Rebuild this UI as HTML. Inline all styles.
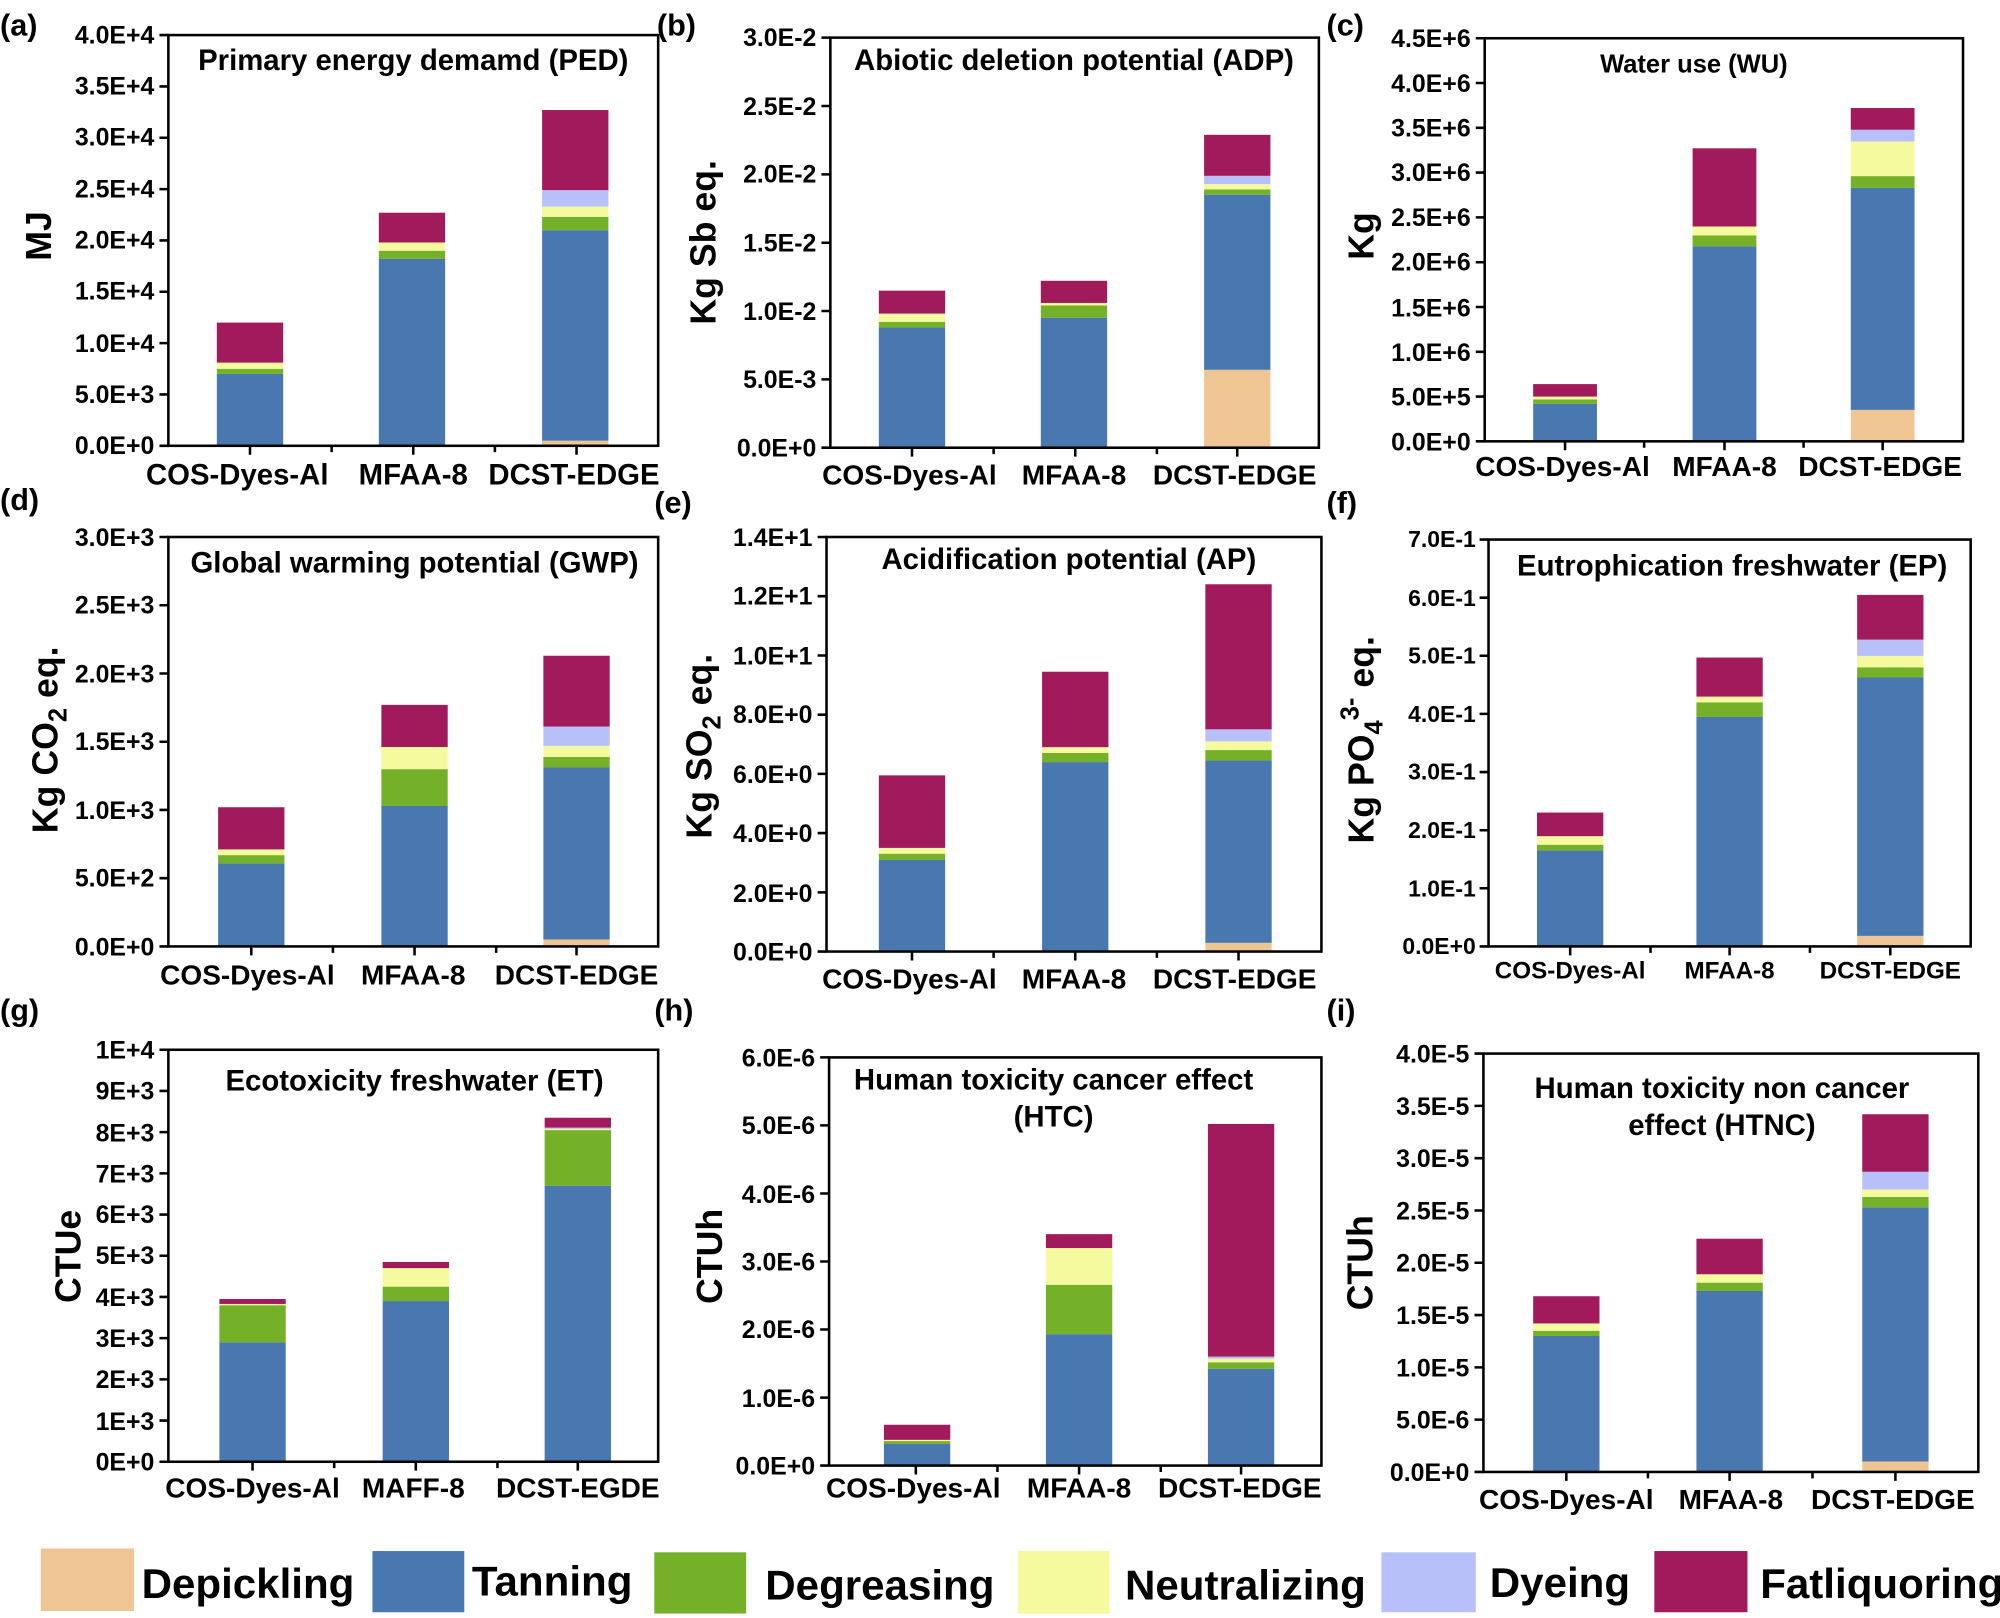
<!DOCTYPE html>
<html><head><meta charset="utf-8"><style>
html,body{margin:0;padding:0;background:#fff;}
svg{display:block;}
text{font-family:"Liberation Sans",Arial,sans-serif;font-weight:bold;fill:#000;}
.t{font-size:19.5px;text-anchor:end;}
.c{font-size:22px;text-anchor:middle;}
.ti{font-size:23px;text-anchor:middle;}
.p{font-size:24px;}
.yl{font-size:28px;text-anchor:middle;}
.lg{font-size:33px;font-weight:bold;}
.fr{fill:none;stroke:#000;stroke-width:2;}
.tk{stroke:#000;stroke-width:2;fill:none;}
.D{fill:#F0C594}.T{fill:#4878AF}.G{fill:#74B028}.N{fill:#F5FA9E}.Y{fill:#B8C0FA}.F{fill:#A11B5C}
</style></head><body>
<svg width="2000" height="1618" viewBox="0 0 1568 1268.5" preserveAspectRatio="none" xmlns="http://www.w3.org/2000/svg">

<!-- ========== (a) ========== -->
<text class="p" x="0" y="28">(a)</text>
<g transform="translate(0,349.5) scale(1,-3.22)">
<rect class="T" x="170" y="0" width="52" height="17.5"/><rect class="G" x="170" y="17.5" width="52" height="1.25"/><rect class="N" x="170" y="18.75" width="52" height="1.5"/><rect class="F" x="170" y="20.25" width="52" height="9.75"/>
<rect class="T" x="297" y="0" width="52" height="45.5"/><rect class="G" x="297" y="45.5" width="52" height="2"/><rect class="N" x="297" y="47.5" width="52" height="2"/><rect class="F" x="297" y="49.5" width="52" height="7.25"/>
<rect class="D" x="425" y="0" width="52" height="1.25"/><rect class="T" x="425" y="1.25" width="52" height="51.25"/><rect class="G" x="425" y="52.5" width="52" height="3.25"/><rect class="N" x="425" y="55.75" width="52" height="2.5"/><rect class="Y" x="425" y="58.25" width="52" height="4"/><rect class="F" x="425" y="62.25" width="52" height="19.5"/>
</g>
<rect class="fr" x="132" y="27.5" width="384" height="322"/>
<path class="tk" d="M132 349.5h-7M132 309.25h-7M132 269h-7M132 228.75h-7M132 188.5h-7M132 148.25h-7M132 108h-7M132 67.75h-7M132 27.5h-7M196 349.5v7M260 349.5v5M324 349.5v7M388 349.5v5M452 349.5v7"/>
<text class="t" x="121" y="356">0.0E+0</text><text class="t" x="121" y="316">5.0E+3</text><text class="t" x="121" y="276">1.0E+4</text><text class="t" x="121" y="235">1.5E+4</text><text class="t" x="121" y="195">2.0E+4</text><text class="t" x="121" y="155">2.5E+4</text><text class="t" x="121" y="114">3.0E+4</text><text class="t" x="121" y="74">3.5E+4</text><text class="t" x="121" y="34">4.0E+4</text>
<text class="ti" x="324" y="55">Primary energy demamd (PED)</text>
<text class="yl" transform="translate(40,185) rotate(-90)">MJ</text>
<text class="c" style="font-size:23px" x="186" y="380">COS-Dyes-Al</text><text class="c" style="font-size:23px" x="324" y="380">MFAA-8</text><text class="c" style="font-size:23px" x="450" y="380">DCST-EDGE</text>

<!-- ========== (b) ========== -->
<text class="p" x="515" y="28">(b)</text>
<g transform="translate(0,351) scale(1,-3.215)">
<rect class="T" x="689" y="0" width="52" height="29.3"/><rect class="G" x="689" y="29.3" width="52" height="1.4"/><rect class="N" x="689" y="30.7" width="52" height="2"/><rect class="F" x="689" y="32.7" width="52" height="5.6"/>
<rect class="T" x="816" y="0" width="52" height="31.7"/><rect class="G" x="816" y="31.7" width="52" height="3"/><rect class="N" x="816" y="34.7" width="52" height="0.6"/><rect class="F" x="816" y="35.3" width="52" height="5.4"/>
<rect class="D" x="944" y="0" width="52" height="19"/><rect class="T" x="944" y="19" width="52" height="42.7"/><rect class="G" x="944" y="61.7" width="52" height="1.3"/><rect class="N" x="944" y="63" width="52" height="1.3"/><rect class="Y" x="944" y="64.3" width="52" height="2"/><rect class="F" x="944" y="66.3" width="52" height="10"/>
</g>
<rect class="fr" x="651" y="29.5" width="383" height="321.5"/>
<path class="tk" d="M651 351h-7M651 297.4h-7M651 243.8h-7M651 190.3h-7M651 136.7h-7M651 83.1h-7M651 29.5h-7M715 351v7M779 351v5M843 351v7M907 351v5M970 351v7"/>
<text class="t" x="640" y="358">0.0E+0</text><text class="t" x="640" y="304">5.0E-3</text><text class="t" x="640" y="251">1.0E-2</text><text class="t" x="640" y="197">1.5E-2</text><text class="t" x="640" y="143">2.0E-2</text><text class="t" x="640" y="90">2.5E-2</text><text class="t" x="640" y="36">3.0E-2</text>
<text class="ti" x="842" y="55">Abiotic deletion potential (ADP)</text>
<text class="yl" transform="translate(561,190) rotate(-90)">Kg Sb eq.</text>
<text class="c" x="713" y="380">COS-Dyes-Al</text><text class="c" x="842" y="380">MFAA-8</text><text class="c" x="968" y="380">DCST-EDGE</text>

<!-- ========== (c) ========== -->
<text class="p" x="1040" y="28">(c)</text>
<g transform="translate(0,346) scale(1,-3.16)">
<rect class="T" x="1202" y="0" width="50" height="9.3"/><rect class="G" x="1202" y="9.3" width="50" height="1.1"/><rect class="N" x="1202" y="10.4" width="50" height="0.7"/><rect class="F" x="1202" y="11.1" width="50" height="3.1"/>
<rect class="T" x="1327" y="0" width="50" height="48.4"/><rect class="G" x="1327" y="48.4" width="50" height="2.7"/><rect class="N" x="1327" y="51.1" width="50" height="2.2"/><rect class="F" x="1327" y="53.3" width="50" height="19.4"/>
<rect class="D" x="1451" y="0" width="50" height="7.8"/><rect class="T" x="1451" y="7.8" width="50" height="55.1"/><rect class="G" x="1451" y="62.9" width="50" height="2.9"/><rect class="N" x="1451" y="65.8" width="50" height="8.6"/><rect class="Y" x="1451" y="74.4" width="50" height="2.9"/><rect class="F" x="1451" y="77.3" width="50" height="5.4"/>
</g>
<rect class="fr" x="1164" y="30" width="375" height="316"/>
<path class="tk" d="M1164 346h-7M1164 310.9h-7M1164 275.8h-7M1164 240.7h-7M1164 205.6h-7M1164 170.4h-7M1164 135.3h-7M1164 100.2h-7M1164 65.1h-7M1164 30h-7M1227 346v7M1289 346v5M1352 346v7M1414 346v5M1476 346v7"/>
<text class="t" x="1153" y="353">0.0E+0</text><text class="t" x="1153" y="318">5.0E+5</text><text class="t" x="1153" y="283">1.0E+6</text><text class="t" x="1153" y="248">1.5E+6</text><text class="t" x="1153" y="212">2.0E+6</text><text class="t" x="1153" y="177">2.5E+6</text><text class="t" x="1153" y="142">3.0E+6</text><text class="t" x="1153" y="107">3.5E+6</text><text class="t" x="1153" y="72">4.0E+6</text><text class="t" x="1153" y="37">4.5E+6</text>
<text class="ti" style="font-size:20px" x="1328" y="57">Water use (WU)</text>
<text class="yl" transform="translate(1077,185) rotate(-90)">Kg</text>
<text class="c" x="1225" y="373">COS-Dyes-Al</text><text class="c" x="1352" y="373">MFAA-8</text><text class="c" x="1474" y="373">DCST-EDGE</text>

<!-- ========== (d) ========== -->
<text class="p" x="0" y="400">(d)</text>
<g transform="translate(0,742) scale(1,-3.21)">
<rect class="T" x="171" y="0" width="52" height="20.3"/><rect class="G" x="171" y="20.3" width="52" height="2"/><rect class="N" x="171" y="22.3" width="52" height="1.4"/><rect class="F" x="171" y="23.7" width="52" height="10.3"/>
<rect class="T" x="299" y="0" width="52" height="34.3"/><rect class="G" x="299" y="34.3" width="52" height="9"/><rect class="N" x="299" y="43.3" width="52" height="5.4"/><rect class="F" x="299" y="48.7" width="52" height="10.3"/>
<rect class="D" x="426" y="0" width="52" height="1.7"/><rect class="T" x="426" y="1.7" width="52" height="42"/><rect class="G" x="426" y="43.7" width="52" height="2.6"/><rect class="N" x="426" y="46.3" width="52" height="2.7"/><rect class="Y" x="426" y="49" width="52" height="4.7"/><rect class="F" x="426" y="53.7" width="52" height="17.3"/>
</g>
<rect class="fr" x="132" y="421" width="384" height="321"/>
<path class="tk" d="M132 742h-7M132 688.5h-7M132 635h-7M132 581.5h-7M132 528h-7M132 474.5h-7M132 421h-7M197 742v7M261 742v5M325 742v7M389 742v5M452 742v7"/>
<text class="t" x="121" y="749">0.0E+0</text><text class="t" x="121" y="695">5.0E+2</text><text class="t" x="121" y="642">1.0E+3</text><text class="t" x="121" y="588">1.5E+3</text><text class="t" x="121" y="535">2.0E+3</text><text class="t" x="121" y="481">2.5E+3</text><text class="t" x="121" y="428">3.0E+3</text>
<text class="ti" x="325" y="449">Global warming potential (GWP)</text>
<text class="yl" transform="translate(45,580) rotate(-90)">Kg CO<tspan font-size="20" dy="7">2</tspan><tspan dy="-7"> eq.</tspan></text>
<text class="c" x="194" y="772">COS-Dyes-Al</text><text class="c" x="324" y="772">MFAA-8</text><text class="c" x="452" y="772">DCST-EDGE</text>

<!-- ========== (e) ========== -->
<text class="p" x="513" y="402">(e)</text>
<g transform="translate(0,746) scale(1,-3.25)">
<rect class="T" x="689" y="0" width="52" height="22.1"/><rect class="G" x="689" y="22.1" width="52" height="1.5"/><rect class="N" x="689" y="23.6" width="52" height="1.4"/><rect class="F" x="689" y="25" width="52" height="17.5"/>
<rect class="T" x="817" y="0" width="52" height="45.7"/><rect class="G" x="817" y="45.7" width="52" height="2.2"/><rect class="N" x="817" y="47.9" width="52" height="1.4"/><rect class="F" x="817" y="49.3" width="52" height="18.2"/>
<rect class="D" x="945" y="0" width="52" height="2.1"/><rect class="T" x="945" y="2.1" width="52" height="44"/><rect class="G" x="945" y="46.1" width="52" height="2.5"/><rect class="N" x="945" y="48.6" width="52" height="2.1"/><rect class="Y" x="945" y="50.7" width="52" height="2.9"/><rect class="F" x="945" y="53.6" width="52" height="35"/>
</g>
<rect class="fr" x="648" y="421" width="388" height="325"/>
<path class="tk" d="M648 746h-7M648 699.6h-7M648 653.1h-7M648 606.7h-7M648 560.3h-7M648 513.9h-7M648 467.4h-7M648 421h-7M715 746v7M779 746v5M843 746v7M907 746v5M971 746v7"/>
<text class="t" x="637" y="753">0.0E+0</text><text class="t" x="637" y="707">2.0E+0</text><text class="t" x="637" y="660">4.0E+0</text><text class="t" x="637" y="614">6.0E+0</text><text class="t" x="637" y="567">8.0E+0</text><text class="t" x="637" y="521">1.0E+1</text><text class="t" x="637" y="474">1.2E+1</text><text class="t" x="637" y="428">1.4E+1</text>
<text class="ti" x="838" y="446">Acidification potential (AP)</text>
<text class="yl" transform="translate(558,585) rotate(-90)">Kg SO<tspan font-size="20" dy="7">2</tspan><tspan dy="-7"> eq.</tspan></text>
<text class="c" x="713" y="775">COS-Dyes-Al</text><text class="c" x="842" y="775">MFAA-8</text><text class="c" x="968" y="775">DCST-EDGE</text>

<!-- ========== (f) ========== -->
<text class="p" x="1040" y="402">(f)</text>
<g transform="translate(0,742) scale(1,-3.19)">
<rect class="T" x="1205" y="0" width="52" height="23.6"/><rect class="G" x="1205" y="23.6" width="52" height="1.4"/><rect class="N" x="1205" y="25" width="52" height="2.1"/><rect class="F" x="1205" y="27.1" width="52" height="5.8"/>
<rect class="T" x="1330" y="0" width="52" height="56.4"/><rect class="G" x="1330" y="56.4" width="52" height="3.6"/><rect class="N" x="1330" y="60" width="52" height="1.4"/><rect class="F" x="1330" y="61.4" width="52" height="9.6"/>
<rect class="D" x="1456" y="0" width="52" height="2.6"/><rect class="T" x="1456" y="2.6" width="52" height="63.5"/><rect class="G" x="1456" y="66.1" width="52" height="2.5"/><rect class="N" x="1456" y="68.6" width="52" height="2.8"/><rect class="Y" x="1456" y="71.4" width="52" height="4"/><rect class="F" x="1456" y="75.4" width="52" height="11"/>
</g>
<rect class="fr" x="1167" y="423" width="378" height="319"/>
<path class="tk" d="M1167 742h-7M1167 696.4h-7M1167 650.9h-7M1167 605.3h-7M1167 559.7h-7M1167 514.1h-7M1167 468.6h-7M1167 423h-7M1231 742v7M1294 742v5M1356 742v7M1419 742v5M1482 742v7"/>
<text class="t" style="font-size:18px" x="1157" y="748">0.0E+0</text><text class="t" style="font-size:18px" x="1157" y="703">1.0E-1</text><text class="t" style="font-size:18px" x="1157" y="657">2.0E-1</text><text class="t" style="font-size:18px" x="1157" y="611">3.0E-1</text><text class="t" style="font-size:18px" x="1157" y="566">4.0E-1</text><text class="t" style="font-size:18px" x="1157" y="520">5.0E-1</text><text class="t" style="font-size:18px" x="1157" y="475">6.0E-1</text><text class="t" style="font-size:18px" x="1157" y="429">7.0E-1</text>
<text class="ti" x="1358" y="451">Eutrophication freshwater (EP)</text>
<text class="yl" transform="translate(1077,580) rotate(-90)">Kg PO<tspan font-size="20" dy="7">4</tspan><tspan font-size="20" dy="-19">3-</tspan><tspan dy="12"> eq.</tspan></text>
<text class="c" style="font-size:19px" x="1231" y="767">COS-Dyes-Al</text><text class="c" style="font-size:19px" x="1356" y="767">MFAA-8</text><text class="c" style="font-size:19px" x="1482" y="767">DCST-EDGE</text>

<!-- ========== (g) ========== -->
<text class="p" x="0" y="800">(g)</text>
<g transform="translate(0,1146) scale(1,-3.23)">
<rect class="T" x="172" y="0" width="52" height="29"/><rect class="G" x="172" y="29" width="52" height="9"/><rect class="N" x="172" y="38" width="52" height="0.3"/><rect class="F" x="172" y="38.3" width="52" height="1.2"/>
<rect class="T" x="300" y="0" width="52" height="39"/><rect class="G" x="300" y="39" width="52" height="3.5"/><rect class="N" x="300" y="42.5" width="52" height="4.5"/><rect class="F" x="300" y="47" width="52" height="1.5"/>
<rect class="T" x="427" y="0" width="52" height="67"/><rect class="G" x="427" y="67" width="52" height="13.5"/><rect class="N" x="427" y="80.5" width="52" height="0.3"/><rect class="Y" x="427" y="80.8" width="52" height="0.3"/><rect class="F" x="427" y="81.1" width="52" height="2.4"/>
</g>
<rect class="fr" x="132" y="823" width="384" height="323"/>
<path class="tk" d="M132 1146h-7M132 1113.7h-7M132 1081.4h-7M132 1049.1h-7M132 1016.8h-7M132 984.5h-7M132 952.2h-7M132 919.9h-7M132 887.6h-7M132 855.3h-7M132 823h-7M198 1146v7M262 1146v5M326 1146v7M390 1146v5M453 1146v7"/>
<text class="t" x="121" y="1153">0E+0</text><text class="t" x="121" y="1121">1E+3</text><text class="t" x="121" y="1088">2E+3</text><text class="t" x="121" y="1056">3E+3</text><text class="t" x="121" y="1024">4E+3</text><text class="t" x="121" y="991">5E+3</text><text class="t" x="121" y="959">6E+3</text><text class="t" x="121" y="927">7E+3</text><text class="t" x="121" y="895">8E+3</text><text class="t" x="121" y="862">9E+3</text><text class="t" x="121" y="830">1E+4</text>
<text class="ti" x="325" y="855">Ecotoxicity freshwater (ET)</text>
<text class="yl" transform="translate(63,985) rotate(-90)">CTUe</text>
<text class="c" x="198" y="1174">COS-Dyes-Al</text><text class="c" x="324" y="1174">MAFF-8</text><text class="c" x="453" y="1174">DCST-EGDE</text>

<!-- ========== (h) ========== -->
<text class="p" x="513" y="800">(h)</text>
<g transform="translate(0,1149) scale(1,-3.2)">
<rect class="T" x="693" y="0" width="52" height="5.3"/><rect class="G" x="693" y="5.3" width="52" height="0.7"/><rect class="N" x="693" y="6" width="52" height="0.3"/><rect class="F" x="693" y="6.3" width="52" height="3.7"/>
<rect class="T" x="820" y="0" width="52" height="32.2"/><rect class="G" x="820" y="32.2" width="52" height="12.1"/><rect class="N" x="820" y="44.3" width="52" height="9"/><rect class="F" x="820" y="53.3" width="52" height="3.4"/>
<rect class="T" x="947" y="0" width="52" height="23.7"/><rect class="G" x="947" y="23.7" width="52" height="1.6"/><rect class="N" x="947" y="25.3" width="52" height="0.9"/><rect class="Y" x="947" y="26.2" width="52" height="0.5"/><rect class="F" x="947" y="26.7" width="52" height="57"/>
</g>
<rect class="fr" x="650" y="829" width="386" height="320"/>
<path class="tk" d="M650 1149h-7M650 1095.7h-7M650 1042.3h-7M650 989h-7M650 935.7h-7M650 882.3h-7M650 829h-7M718 1149v7M782 1149v5M846 1149v7M910 1149v5M973 1149v7"/>
<text class="t" x="639" y="1156">0.0E+0</text><text class="t" x="639" y="1103">1.0E-6</text><text class="t" x="639" y="1049">2.0E-6</text><text class="t" x="639" y="996">3.0E-6</text><text class="t" x="639" y="943">4.0E-6</text><text class="t" x="639" y="889">5.0E-6</text><text class="t" x="639" y="836">6.0E-6</text>
<text class="ti" x="826" y="854">Human toxicity cancer effect</text><text class="ti" x="826" y="883">(HTC)</text>
<text class="yl" transform="translate(566,985) rotate(-90)">CTUh</text>
<text class="c" x="716" y="1174">COS-Dyes-Al</text><text class="c" x="846" y="1174">MFAA-8</text><text class="c" x="972" y="1174">DCST-EDGE</text>

<!-- ========== (i) ========== -->
<text class="p" x="1040" y="800">(i)</text>
<g transform="translate(0,1154) scale(1,-3.28)">
<rect class="T" x="1202" y="0" width="52" height="32.5"/><rect class="G" x="1202" y="32.5" width="52" height="1.25"/><rect class="N" x="1202" y="33.75" width="52" height="1.75"/><rect class="F" x="1202" y="35.5" width="52" height="6.5"/>
<rect class="T" x="1330" y="0" width="52" height="43.25"/><rect class="G" x="1330" y="43.25" width="52" height="2"/><rect class="N" x="1330" y="45.25" width="52" height="2"/><rect class="F" x="1330" y="47.25" width="52" height="8.5"/>
<rect class="D" x="1460" y="0" width="52" height="2.5"/><rect class="T" x="1460" y="2.5" width="52" height="60.75"/><rect class="G" x="1460" y="63.25" width="52" height="2.5"/><rect class="N" x="1460" y="65.75" width="52" height="1.75"/><rect class="Y" x="1460" y="67.5" width="52" height="4.25"/><rect class="F" x="1460" y="71.75" width="52" height="13.75"/>
</g>
<rect class="fr" x="1163" y="826" width="388" height="328"/>
<path class="tk" d="M1163 1154h-7M1163 1113h-7M1163 1072h-7M1163 1031h-7M1163 990h-7M1163 949h-7M1163 908h-7M1163 867h-7M1163 826h-7M1228 1154v7M1292 1154v5M1356 1154v7M1421 1154v5M1486 1154v7"/>
<text class="t" x="1152" y="1161">0.0E+0</text><text class="t" x="1152" y="1120">5.0E-6</text><text class="t" x="1152" y="1079">1.0E-5</text><text class="t" x="1152" y="1038">1.5E-5</text><text class="t" x="1152" y="997">2.0E-5</text><text class="t" x="1152" y="956">2.5E-5</text><text class="t" x="1152" y="915">3.0E-5</text><text class="t" x="1152" y="874">3.5E-5</text><text class="t" x="1152" y="833">4.0E-5</text>
<text class="ti" x="1350" y="861">Human toxicity non cancer</text><text class="ti" x="1350" y="890">effect (HTNC)</text>
<text class="yl" transform="translate(1076,990) rotate(-90)">CTUh</text>
<text class="c" x="1228" y="1183">COS-Dyes-Al</text><text class="c" x="1357" y="1183">MFAA-8</text><text class="c" x="1484" y="1183">DCST-EDGE</text>

<!-- ========== legend ========== -->
<rect class="D" x="32" y="1214" width="73" height="49"/><text class="lg" x="111" y="1253">Depickling</text>
<rect class="T" x="292" y="1216" width="72" height="48"/><text class="lg" x="370" y="1251">Tanning</text>
<rect class="G" x="513" y="1217" width="72" height="48"/><text class="lg" x="600" y="1254">Degreasing</text>
<rect class="N" x="798" y="1216" width="72" height="49"/><text class="lg" x="882" y="1254">Neutralizing</text>
<rect class="Y" x="1083" y="1217" width="74" height="47"/><text class="lg" x="1168" y="1252">Dyeing</text>
<rect class="F" x="1297" y="1216" width="73" height="48"/><text class="lg" x="1380" y="1253">Fatliquoring</text>
</svg>
</body></html>
